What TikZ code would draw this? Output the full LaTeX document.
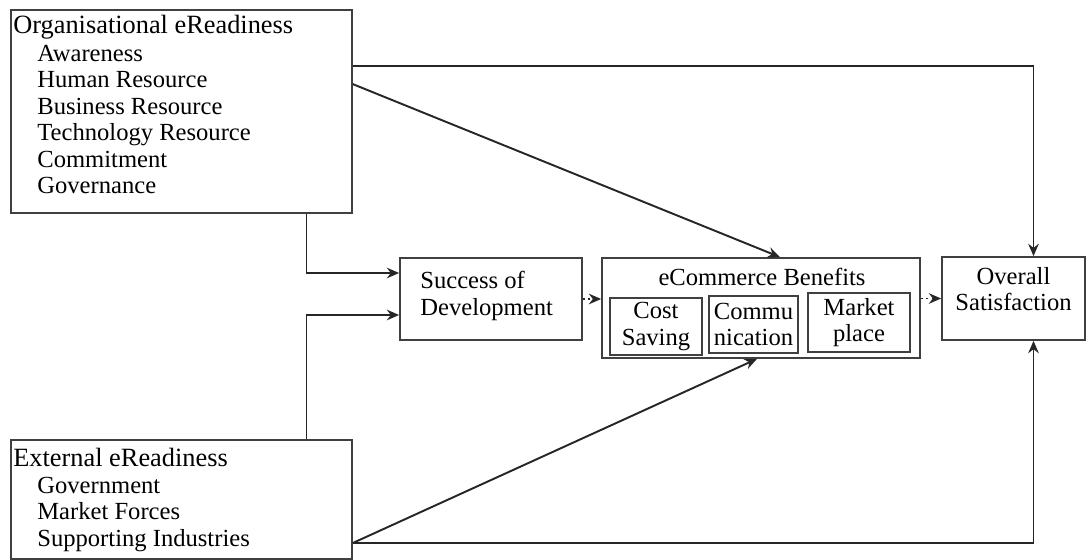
\documentclass[tikz,border=0pt]{standalone}
\usepackage{fontspec}
\setmainfont{Liberation Serif}
\usetikzlibrary{positioning,arrows.meta,calc}

\begin{document}
\begin{tikzpicture}[x=0.02cm,y=-0.02cm,font=\fontsize{14}{15}\selectfont,
  box/.style={draw=black!75,line width=1pt,inner sep=0pt},
  sub/.style={box,align=center},
  txt/.style={inner sep=0pt},
  link/.style={draw=black!85,line width=1.1pt,-{Stealth[length=7pt,width=6pt]}},
  dotlink/.style={link,dotted}]
  \useasboundingbox (0,0) rectangle (1091,560);
  % readiness boxes
  \node[box,minimum width=6.82cm,minimum height=4.06cm] (org) at (181.5,111.5) {};
  \node[txt,anchor=west,font=\fontsize{15}{15}\selectfont] (orgtitle) at (13,27) {Organisational eReadiness};
  \node[txt,anchor=north west,align=left] (orglist) at (37,45) {Awareness\\Human Resource\\Business Resource\\Technology Resource\\Commitment\\Governance};
  \node[box,minimum width=6.82cm,minimum height=2.38cm] (ext) at (181.5,499.5) {};
  \node[txt,anchor=west,font=\fontsize{15}{15}\selectfont] (exttitle) at (13,457) {External eReadiness};
  \node[txt,anchor=north west,align=left] (extlist) at (37,477) {Government\\Market Forces\\Supporting Industries};
  % middle row
  \node[box,minimum width=3.64cm,minimum height=1.64cm] (succ) at (491,299) {};
  \node[txt,anchor=west,align=left] (succtext) at (420,296) {Success of\\Development};
  \node[box,minimum width=6.36cm,minimum height=2cm] (ecom) at (761,308) {};
  \node[txt] (ecomtitle) at (762,277) {eCommerce Benefits};
  \node[sub,minimum width=1.84cm,minimum height=1.14cm] (cost) at (656,326.5) {Cost\\Saving};
  \node[sub,minimum width=1.78cm,minimum height=1.14cm] (comm) at (753.5,324.5) {Commu\\nication};
  \node[sub,minimum width=2.04cm,minimum height=1.18cm] (mkt) at (859,322.5) {Market\\place};
  \node[box,minimum width=2.86cm,minimum height=1.66cm] (sat) at (1013.5,298.5) {};
  \node[txt,align=center] (sattext) at (1013.5,289) {Overall\\Satisfaction};
  % connectors
  \draw[link] ([yshift=-1.14cm]org.north east) -| ([xshift=0.4cm]sat.north);
  \draw[link] ([yshift=-1.5cm]org.north east) -- ([xshift=0.38cm]ecom.north);
  \draw[link] ([xshift=2.5cm]org.south) |- ([yshift=0.52cm]succ.west);
  \draw[link] ([xshift=2.5cm]ext.north) |- ([yshift=-0.32cm]succ.west);
  \draw[dotlink] (succ.east) -- (succ.east -| ecom.west);
  \draw[dotlink] (ecom.east |- sat.west) -- (sat.west);
  \draw[link] ([yshift=-0.87cm]ext.east) -- ([xshift=-0.08cm]ecom.south);
  \draw[link] ([yshift=-0.87cm]ext.east) -| ([xshift=0.4cm]sat.south);
\end{tikzpicture}
\end{document}
